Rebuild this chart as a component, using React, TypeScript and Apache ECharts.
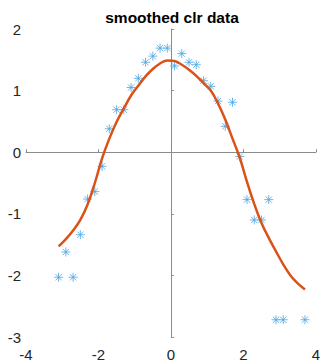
import React, { useEffect, useRef } from "react";
import * as echarts from "echarts";

const titleText = "smoothed clr data";

const dataX = [
  -3.1, -2.9, -2.7, -2.5, -2.3, -2.1, -1.9, -1.7, -1.5, -1.3, -1.1, -0.9, -0.7, -0.5, -0.3, -0.1,
  0.1, 0.3, 0.5, 0.7, 0.9, 1.1, 1.3, 1.5, 1.7, 1.9, 2.1, 2.3, 2.5, 2.7, 2.9, 3.1, 3.7,
];
const dataY = [
  -2.03, -1.62, -2.03, -1.34, -0.76, -0.64, -0.23, 0.38, 0.69, 0.69, 1.05, 1.2, 1.46, 1.56, 1.69, 1.69,
  1.4, 1.6, 1.46, 1.42, 1.16, 1.07, 0.83, 0.42, 0.81, -0.07, -0.77, -1.1, -1.1, -0.77, -2.72, -2.72, -2.72,
];

const smoothX = [
  -3.1, -2.9, -2.7, -2.5, -2.3, -2.1, -1.9, -1.7, -1.5, -1.3, -1.1, -0.9, -0.7, -0.5, -0.3, -0.1,
  0.1, 0.3, 0.5, 0.7, 0.9, 1.1, 1.3, 1.5, 1.7, 1.9, 2.1, 2.3, 2.5, 2.7, 2.9, 3.1, 3.3, 3.5, 3.7,
];
const smoothY = [
  -1.53, -1.41, -1.27, -1.1, -0.85, -0.5, -0.1, 0.22, 0.49, 0.71, 0.92, 1.08, 1.23, 1.35, 1.44, 1.49,
  1.48, 1.42, 1.34, 1.24, 1.12, 1.0, 0.79, 0.53, 0.22, -0.09, -0.48, -0.84, -1.15, -1.39, -1.61, -1.82,
  -2.0, -2.13, -2.23,
];

const xTicks = { min: -4, max: 4, interval: 2 };
const yTicks = { min: -3, max: 2, interval: 1 };

const asterisk =
  "path://M0,-5L0,5M-5,0L5,0M-3.5,-3.5L3.5,3.5M-3.5,3.5L3.5,-3.5";

export default function App() {
  const ref = useRef<HTMLDivElement>(null);
  useEffect(() => {
    document.body.style.margin = "0";
    if (!ref.current) return;
    const chart = echarts.init(ref.current, undefined, { renderer: "svg" });
    const axisCommon = {
      axisLine: { show: true, lineStyle: { color: "#8c8c8c", width: 1 } },
      axisTick: { show: true, inside: true, length: 3, lineStyle: { color: "#8c8c8c" } },
      splitLine: { show: false },
      axisLabel: {
        color: "#262626",
        fontFamily: "Liberation Sans, Arial, sans-serif",
        fontSize: 15,
      },
    };
    chart.setOption({
      animation: false,
      backgroundColor: "#ffffff",
      graphic: [
        {
          type: "text",
          x: 172,
          y: 17.5,
          style: {
            text: titleText,
            align: "center",
            verticalAlign: "middle",
            fontFamily: "Liberation Sans, Arial, sans-serif",
            fontWeight: "bold",
            fontSize: 15.5,
            fill: "#000000",
          },
        },
      ],
      grid: { left: 26, right: 4, top: 29, bottom: 25, containLabel: false },
      xAxis: {
        type: "value",
        min: xTicks.min,
        max: xTicks.max,
        interval: xTicks.interval,
        ...axisCommon,
        axisLabel: { ...axisCommon.axisLabel, margin: 10 },
      },
      yAxis: {
        type: "value",
        min: yTicks.min,
        max: yTicks.max,
        interval: yTicks.interval,
        ...axisCommon,
        axisLabel: { ...axisCommon.axisLabel, margin: 5 },
      },
      series: [
        {
          type: "scatter",
          data: dataX.map((x, i) => [x, dataY[i]]),
          symbol: asterisk,
          symbolSize: 9,
          symbolKeepAspect: true,
          itemStyle: { color: "transparent", borderColor: "#4aa5e4", borderWidth: 1 },
          z: 2,
        },
        {
          type: "line",
          data: smoothX.map((x, i) => [x, smoothY[i]]),
          smooth: 0.4,
          showSymbol: false,
          symbol: "none",
          lineStyle: { color: "#D95319", width: 2.5 },
          z: 3,
        },
      ],
    });
    return () => chart.dispose();
  }, []);
  return <div ref={ref} style={{ width: 323, height: 362 }} />;
}
